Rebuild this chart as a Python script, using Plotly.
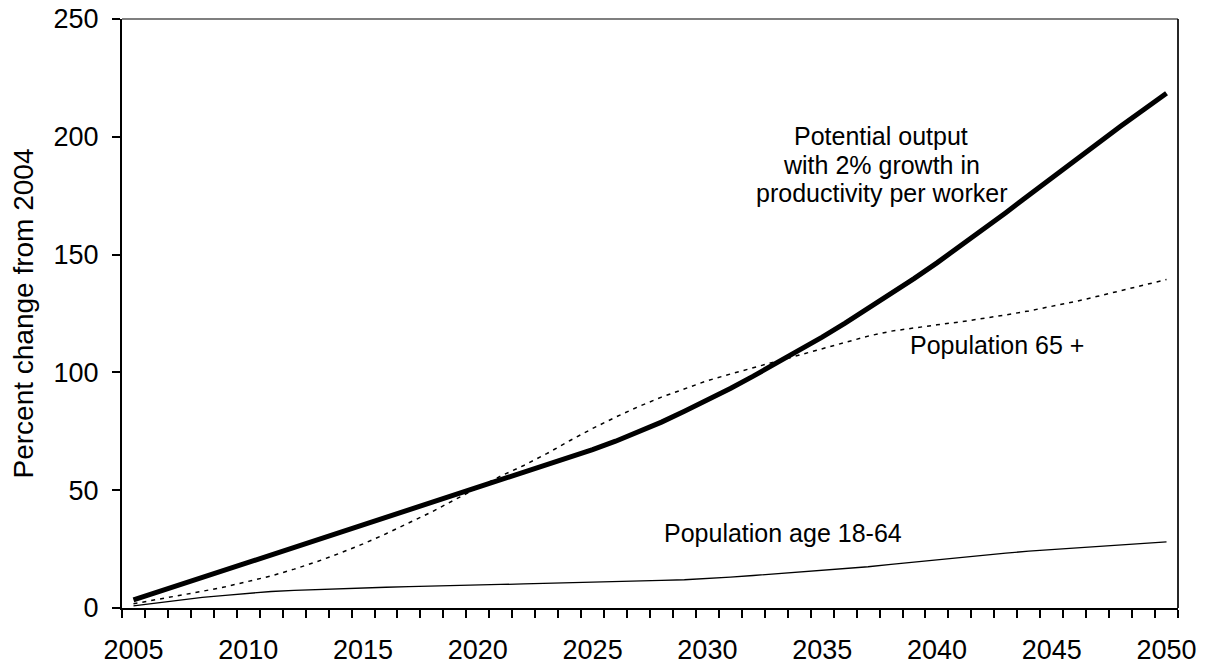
import plotly.graph_objects as go

years = list(range(2005, 2051))

potential_output = [3.4, 6.6, 9.8, 13.0, 16.2, 19.3, 22.4, 25.5, 28.7, 31.9,
                    35.1, 38.3, 41.6, 44.9, 48.2, 51.3, 54.3, 57.4, 60.6, 63.9,
                    67.2, 70.8, 74.7, 78.9, 83.5, 88.2, 93.2, 98.4, 103.8, 109.3,
                    115.0, 120.9, 127.0, 133.3, 139.8, 146.5, 153.4, 160.5, 167.8, 175.2,
                    182.6, 190.0, 197.3, 204.5, 211.5, 218.5]

pop_65_plus = [1.8, 3.5, 5.3, 7.1, 9.0, 11.2, 13.6, 16.5, 19.7, 23.3,
               27.2, 31.5, 36.0, 40.8, 46.0, 51.0, 56.0, 60.5, 65.5, 71.0,
               76.2, 81.0, 85.5, 89.5, 93.0, 96.5, 99.3, 102.0, 104.5, 107.2,
               110.0, 112.8, 115.4, 117.5, 119.0, 120.2, 121.4, 122.8, 124.4, 126.1,
               127.9, 130.0, 132.3, 134.6, 137.0, 139.4]

pop_18_64 = [0.9, 2.2, 3.4, 4.5, 5.4, 6.3, 7.0, 7.5, 7.9, 8.2,
             8.5, 8.8, 9.1, 9.4, 9.6, 9.8, 10.0, 10.2, 10.4, 10.6,
             10.8, 11.1, 11.4, 11.7, 12.0, 12.4, 13.1, 13.8, 14.5, 15.2,
             15.9, 16.6, 17.5, 18.5, 19.5, 20.5, 21.5, 22.5, 23.3, 24.1,
             24.8, 25.5, 26.2, 26.9, 27.5, 28.1]

x_tick_vals = [2005, 2010, 2015, 2020, 2025, 2030, 2035, 2040, 2045, 2050]
x_tick_text = ["2005", "2010", "2015", "2020", "2025", "2030", "2035", "2040", "2045", "2050"]
y_tick_vals = [0, 50, 100, 150, 200, 250]

FONT = "Liberation Sans, Arial, sans-serif"

fig = go.Figure()
fig.add_trace(go.Scatter(x=years, y=pop_18_64, mode="lines",
                         line=dict(color="black", width=1.3), name="Population age 18-64"))
fig.add_trace(go.Scatter(x=years, y=pop_65_plus, mode="lines",
                         line=dict(color="black", width=1.5, dash="4px,5px"), name="Population 65 +"))
fig.add_trace(go.Scatter(x=years, y=potential_output, mode="lines",
                         line=dict(color="black", width=5), name="Potential output"))

ann_font = dict(family=FONT, size=25, color="black")
fig.add_annotation(x=2037.57, y=200.5, text="Potential output", showarrow=False,
                   xanchor="center", yanchor="middle", font=ann_font)
fig.add_annotation(x=2037.57, y=188.0, text="with 2% growth in", showarrow=False,
                   xanchor="center", yanchor="middle", font=ann_font)
fig.add_annotation(x=2037.57, y=176.0, text="productivity per worker", showarrow=False,
                   xanchor="center", yanchor="middle", font=ann_font)
fig.add_annotation(x=2042.63, y=111.6, text="Population 65 +", showarrow=False,
                   xanchor="center", yanchor="middle", font=ann_font)
fig.add_annotation(x=2033.28, y=31.7, text="Population age 18-64", showarrow=False,
                   xanchor="center", yanchor="middle", font=ann_font)

# top and right border of the plot frame
fig.add_shape(type="line", xref="paper", yref="paper", x0=0, x1=1, y0=1, y1=1,
              line=dict(color="black", width=1.2))
fig.add_shape(type="line", xref="paper", yref="paper", x0=1, x1=1, y0=0, y1=1,
              line=dict(color="black", width=1.7))

fig.update_layout(
    width=1205, height=664,
    margin=dict(l=122, r=27, t=19, b=56),
    paper_bgcolor="white", plot_bgcolor="white",
    showlegend=False, hovermode=False,
    font=dict(family=FONT, color="black"),
)
fig.update_xaxes(
    range=[2004.5, 2050.5], automargin=False,
    tickmode="array", tickvals=x_tick_vals, ticktext=x_tick_text,
    ticks="", showgrid=False, zeroline=False,
    showline=True, linecolor="black", linewidth=2,
    tickfont=dict(family=FONT, size=27, color="black"),
    ticklabelstandoff=17, ticklabeloverflow="allow",
    minor=dict(ticks="outside", ticklen=8, tickwidth=1.5, tickcolor="black",
               tick0=2004.5, dtick=1, showgrid=False),
)
fig.update_yaxes(
    range=[0, 250], automargin=False,
    tickmode="array", tickvals=y_tick_vals,
    ticks="outside", ticklen=8, tickwidth=1.5, tickcolor="black",
    showgrid=False, zeroline=False,
    showline=True, linecolor="black", linewidth=2,
    tickfont=dict(family=FONT, size=27, color="black"),
    ticklabelstandoff=8, ticklabeloverflow="allow",
    title=dict(text="Percent change from 2004", font=dict(family=FONT, size=28, color="black"), standoff=12),
)

fig.write_html("out.html", config={"displayModeBar": False},
               post_script="document.body.style.margin='0';")
